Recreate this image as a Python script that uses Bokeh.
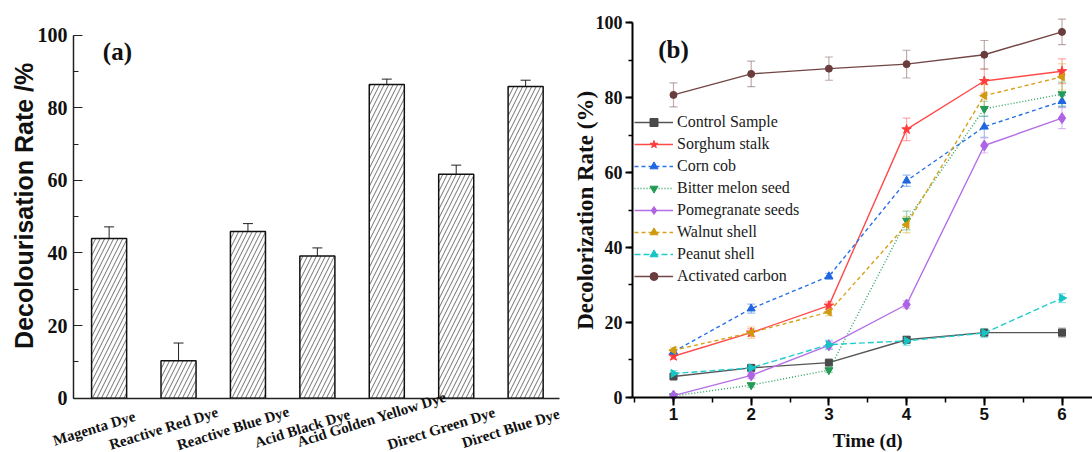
import math
from bokeh.plotting import figure
from bokeh.models import (Range1d, ColumnDataSource, Whisker, TeeHead, Label,
                          Legend, LegendItem, SingleIntervalTicker, FixedTicker)
from bokeh.layouts import row
from bokeh.embed import file_html
from bokeh.resources import INLINE

# ---------------- Panel (a) data ----------------
dyes = ["Magenta Dye", "Reactive Red Dye", "Reactive Blue Dye", "Acid Black Dye",
        "Acid Golden Yellow Dye", "Direct Green Dye", "Direct Blue Dye"]
decolourisation = [44.0, 10.3, 45.9, 39.2, 86.4, 61.7, 85.9]
decolourisation_err = [3.2, 4.9, 2.2, 2.2, 1.5, 2.5, 1.7]

# ---------------- Panel (b) data ----------------
days = [1, 2, 3, 4, 5, 6]
series_names = ["Control Sample", "Sorghum stalk", "Corn cob", "Bitter melon seed",
                "Pomegranate seeds", "Walnut shell", "Peanut shell", "Activated carbon"]
control = [5.6, 7.9, 9.3, 15.4, 17.3, 17.3]
sorghum = [11.0, 17.3, 24.5, 71.5, 84.4, 87.0]
corn = [12.2, 23.7, 32.3, 57.8, 72.2, 79.0]
bitter = [0.4, 3.3, 7.3, 47.2, 77.0, 80.9]
pomegranate = [0.5, 5.9, 13.9, 24.8, 67.2, 74.5]
walnut = [12.6, 17.3, 22.8, 46.1, 80.5, 85.5]
peanut = [6.4, 7.9, 14.1, 15.1, 17.2, 26.5]
activated = [80.7, 86.3, 87.7, 88.9, 91.4, 97.5]

control_err = [0.5, 0.5, 0.5, 0.8, 0.8, 1.2]
sorghum_err = [0.8, 1.0, 1.0, 3.0, 3.2, 3.3]
corn_err = [0.6, 1.2, 0.8, 1.5, 2.8, 1.5]
bitter_err = [0.3, 0.6, 0.6, 2.5, 2.0, 3.2]
pomegranate_err = [0.4, 0.8, 1.0, 1.0, 2.0, 2.8]
walnut_err = [0.8, 1.5, 1.0, 2.2, 3.0, 3.5]
peanut_err = [0.8, 0.8, 1.2, 1.2, 1.2, 1.2]
activated_err = [3.2, 3.4, 3.1, 3.7, 3.8, 3.4]

SERIF = "Liberation Serif"
SANS = "Liberation Sans"

# ================= Panel (a) =================
# frame covers the whole canvas; axes are pinned with fixed_location/bounds
XA0, XA1 = 0.487, 7.487
p1 = figure(width=560, height=452, x_range=Range1d(-0.5646, 7.5023), y_range=Range1d(-14.96, 109.56),
            output_backend="svg", toolbar_location=None,
            min_border_left=0, min_border_right=0, min_border_top=0, min_border_bottom=0)
p1.outline_line_color = None
p1.grid.visible = False

xa = list(range(1, len(dyes) + 1))
src_a = ColumnDataSource(dict(
    x=xa, top=decolourisation,
    upper=[v + e for v, e in zip(decolourisation, decolourisation_err)],
    lower=[v - e for v, e in zip(decolourisation, decolourisation_err)],
))
p1.vbar(x="x", top="top", width=0.505, source=src_a, fill_color="white",
        line_color="#111111", line_width=1.5,
        hatch_pattern="/", hatch_color="#333333", hatch_scale=9, hatch_weight=0.7)
p1.add_layout(Whisker(source=src_a, base="x", upper="upper", lower="lower",
                      line_color="#222222", line_width=1,
                      upper_head=TeeHead(size=10, line_color="#222222", line_width=1),
                      lower_head=TeeHead(size=10, line_color="#222222", line_width=1)))

ya = p1.yaxis[0]
ya.fixed_location = XA0
ya.bounds = (0, 100)
ya.ticker = SingleIntervalTicker(interval=20, num_minor_ticks=2)
ya.major_tick_in = 9
ya.major_tick_out = 0
ya.minor_tick_in = 5
ya.minor_tick_out = 0
ya.major_label_standoff = 6
ya.major_label_text_font = SERIF
ya.major_label_text_font_style = "bold"
ya.major_label_text_font_size = "20px"
ya.major_label_text_color = "#111111"
ya.axis_line_width = 1.5
ya.axis_line_color = "#222222"
ya.major_tick_line_color = "#222222"
ya.minor_tick_line_color = "#222222"

xa_ax = p1.xaxis[0]
xa_ax.fixed_location = 0
xa_ax.bounds = (XA0, XA1)
xa_ax.ticker = FixedTicker(ticks=[], minor_ticks=[])
xa_ax.axis_line_width = 1.5
xa_ax.axis_line_color = "#222222"

# category labels (rotated)
for i, name in enumerate(dyes):
    lift = 9 if len(name) > 18 else 0
    p1.add_layout(Label(x=xa[i], y=-8.3, x_offset=-15, y_offset=lift, text=name, angle=0.3,
                        text_align="center", text_baseline="middle",
                        text_font=SERIF, text_font_style="bold",
                        text_font_size="15px", text_color="#111111"))

p1.add_layout(Label(x=-0.233, y=53.0, text="Decolourisation Rate /%", angle=math.pi / 2,
                    text_align="center", text_baseline="middle",
                    text_font=SANS, text_font_style="bold",
                    text_font_size="25px", text_color="#111111"))
p1.add_layout(Label(x=1.12, y=95.4, text="(a)",
                    text_align="center", text_baseline="middle",
                    text_font=SERIF, text_font_style="bold",
                    text_font_size="25px", text_color="#111111"))

# ================= Panel (b) =================
XB0, XB1 = 0.4723, 6.3925
p2 = figure(width=532, height=452, x_range=Range1d(-0.4543, XB1), y_range=Range1d(-14.67, 105.87),
            output_backend="svg", toolbar_location=None,
            min_border_left=0, min_border_right=0, min_border_top=0, min_border_bottom=0)
p2.outline_line_color = None
p2.grid.visible = False

series = [
    (series_names[0], control, control_err, "#555555", "#4a4a4a", "square", 7, 0, "solid"),
    (series_names[1], sorghum, sorghum_err, "#FF4A4A", "#FF3B3B", "star", 10, 0, "solid"),
    (series_names[2], corn, corn_err, "#2A72E8", "#1F66E0", "triangle", 8, 0, "4 3"),
    (series_names[3], bitter, bitter_err, "#2CA25F", "#239A55", "inverted_triangle", 8, 0, "1 2"),
    (series_names[4], pomegranate, pomegranate_err, "#B46EE6", "#AE62E4", "diamond", 11, 0, "solid"),
    (series_names[5], walnut, walnut_err, "#D6A21A", "#D09A10", "triangle", 8, math.pi / 2, "4 3"),
    (series_names[6], peanut, peanut_err, "#22CCCC", "#15C4C4", "triangle", 8, -math.pi / 2, "6 3"),
    (series_names[7], activated, activated_err, "#734646", "#6A3C3C", "circle", 7, 0, "solid"),
]

items = []
for name, vals, errs, lc, mc, marker, size, ang, dash in series:
    src = ColumnDataSource(dict(
        x=days, y=vals,
        upper=[v + e for v, e in zip(vals, errs)],
        lower=[v - e for v, e in zip(vals, errs)],
    ))
    p2.add_layout(Whisker(source=src, base="x", upper="upper", lower="lower",
                          line_color=lc, line_alpha=0.45, line_width=1.2,
                          upper_head=TeeHead(size=8, line_color=lc, line_alpha=0.45, line_width=1.2),
                          lower_head=TeeHead(size=8, line_color=lc, line_alpha=0.45, line_width=1.2)))
    lr = p2.line("x", "y", source=src, line_color=lc, line_width=1.4, line_dash=dash)
    sr = p2.scatter("x", "y", source=src, marker=marker, size=size, angle=ang,
                    fill_color=mc, line_color=mc)
    items.append(LegendItem(label=name, renderers=[lr, sr]))

legend = Legend(items=items, location=(74, 166), padding=0, margin=0, spacing=2,
                glyph_width=39, glyph_height=20, label_height=20, label_standoff=4,
                label_text_font=SERIF, label_text_font_size="16px",
                label_text_color="#1a1a1a",
                background_fill_alpha=0, border_line_color=None)
p2.add_layout(legend)

yb = p2.yaxis[0]
yb.fixed_location = XB0
yb.bounds = (0, 100)
yb.ticker = SingleIntervalTicker(interval=20, num_minor_ticks=2)
yb.major_tick_in = 0
yb.major_tick_out = 7
yb.minor_tick_in = 0
yb.minor_tick_out = 4
yb.major_label_standoff = 3
yb.major_label_text_font = SERIF
yb.major_label_text_font_style = "bold"
yb.major_label_text_font_size = "18px"
yb.major_label_text_color = "#111111"
yb.axis_line_width = 2
yb.major_tick_line_width = 2
yb.minor_tick_line_width = 1.5

xb = p2.xaxis[0]
xb.fixed_location = 0
xb.bounds = (XB0, XB1)
xb.ticker = SingleIntervalTicker(interval=1, num_minor_ticks=2)
xb.major_tick_in = 0
xb.major_tick_out = 8
xb.minor_tick_in = 0
xb.minor_tick_out = 5
xb.major_label_standoff = 3
xb.major_label_text_font = SANS
xb.major_label_text_font_style = "bold"
xb.major_label_text_font_size = "17px"
xb.major_label_text_color = "#111111"
xb.axis_line_width = 2
xb.major_tick_line_width = 2
xb.minor_tick_line_width = 1.5

p2.add_layout(Label(x=3.5, y=-11.6, text="Time (d)",
                    text_align="center", text_baseline="middle",
                    text_font=SERIF, text_font_style="bold",
                    text_font_size="19px", text_color="#111111"))
p2.add_layout(Label(x=-0.1326, y=49.9, text="Decolorization Rate (%)", angle=math.pi / 2,
                    text_align="center", text_baseline="middle",
                    text_font=SERIF, text_font_style="bold",
                    text_font_size="23px", text_color="#111111"))
p2.add_layout(Label(x=1.0, y=92.8, text="(b)",
                    text_align="center", text_baseline="middle",
                    text_font=SERIF, text_font_style="bold",
                    text_font_size="25px", text_color="#111111"))

layout = row(p1, p2)
open("out.html", "w").write(file_html(layout, INLINE))
